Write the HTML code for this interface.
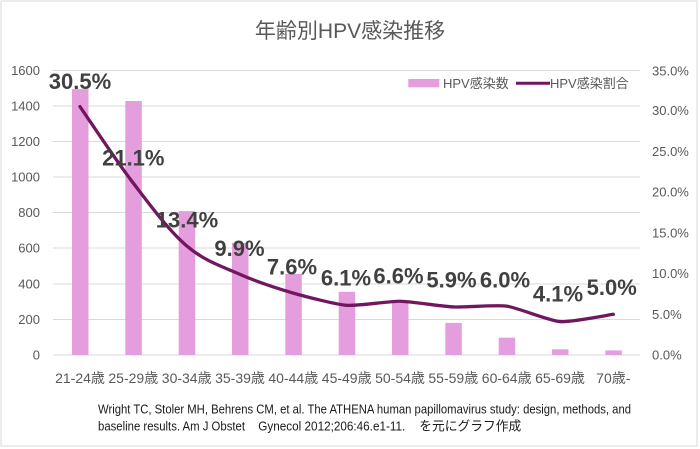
<!DOCTYPE html>
<html>
<head>
<meta charset="utf-8">
<style>
  html, body { margin:0; padding:0; background:#fff; }
  body { width:700px; height:449px; overflow:hidden; }
  svg { display:block; }
  .ax { font-family:"Liberation Sans","Noto Sans CJK JP",sans-serif; font-size:13px; fill:#595959; }
  .xl { font-family:"Liberation Sans","Noto Sans CJK JP",sans-serif; font-size:14px; fill:#595959; }
  .dl { font-family:"Liberation Sans",sans-serif; font-size:22px; font-weight:bold; fill:#404040; }
  .cit { font-family:"Liberation Sans","Noto Sans CJK JP",sans-serif; font-size:13px; fill:#1a1a1a; }
</style>
</head>
<body>
<svg width="700" height="449" viewBox="0 0 700 449" xmlns="http://www.w3.org/2000/svg">
  <rect x="0" y="0" width="700" height="449" fill="#fff"/>
  <rect x="1" y="1" width="696" height="445" fill="none" stroke="#d9d9d9" stroke-width="1"/>

  <!-- Title -->
  <text x="350" y="38" text-anchor="middle" font-family="'Liberation Sans','Noto Sans CJK JP',sans-serif" font-size="21" fill="#595959">年齢別HPV感染推移</text>

  <!-- Gridlines -->
  <g stroke="#d9d9d9" stroke-width="1">
    <line x1="53" y1="70.5" x2="640" y2="70.5"/>
    <line x1="53" y1="106" x2="640" y2="106"/>
    <line x1="53" y1="141.5" x2="640" y2="141.5"/>
    <line x1="53" y1="177" x2="640" y2="177"/>
    <line x1="53" y1="212.5" x2="640" y2="212.5"/>
    <line x1="53" y1="248" x2="640" y2="248"/>
    <line x1="53" y1="284" x2="640" y2="284"/>
    <line x1="53" y1="319.5" x2="640" y2="319.5"/>
    <line x1="53" y1="355" x2="640" y2="355"/>
  </g>

  <!-- Left axis labels -->
  <g class="ax" text-anchor="end">
    <text x="40" y="75">1600</text>
    <text x="40" y="110.5">1400</text>
    <text x="40" y="146">1200</text>
    <text x="40" y="181.5">1000</text>
    <text x="40" y="217">800</text>
    <text x="40" y="252.5">600</text>
    <text x="40" y="288.5">400</text>
    <text x="40" y="324">200</text>
    <text x="40" y="359.5">0</text>
  </g>

  <!-- Right axis labels -->
  <g class="ax" text-anchor="start">
    <text x="652" y="75.5">35.0%</text>
    <text x="652" y="115.2">30.0%</text>
    <text x="652" y="156">25.0%</text>
    <text x="652" y="196.7">20.0%</text>
    <text x="652" y="237.4">15.0%</text>
    <text x="652" y="278.2">10.0%</text>
    <text x="652" y="318.9">5.0%</text>
    <text x="652" y="359.5">0.0%</text>
  </g>

  <!-- Bars -->
  <g fill="#e59edd">
    <rect x="72" y="89.1" width="16.5" height="265.9"/>
    <rect x="125.3" y="101" width="16.5" height="254"/>
    <rect x="178.7" y="211.1" width="16.5" height="143.9"/>
    <rect x="232" y="242.8" width="16.5" height="112.2"/>
    <rect x="285.3" y="274" width="16.5" height="81"/>
    <rect x="338.7" y="291.8" width="16.5" height="63.2"/>
    <rect x="392" y="303" width="16.5" height="52"/>
    <rect x="445.3" y="322.9" width="16.5" height="32.1"/>
    <rect x="498.7" y="337.7" width="16.5" height="17.3"/>
    <rect x="552" y="349.3" width="16.5" height="5.7"/>
    <rect x="605.3" y="350.4" width="16.5" height="4.6"/>
  </g>

  <!-- Line -->
  <path fill="none" stroke="#71175f" stroke-width="3.3" stroke-linecap="round" stroke-linejoin="round"
    d="M80,106.64
       C88.89,119.40 115.56,159.98 133.33,183.19
       C151.11,206.40 168.89,230.69 186.67,245.89
       C204.44,261.09 222.22,266.52 240,274.39
       C257.78,282.26 282.67,290.02 293.33,293.11
       C304,296.2 336,304.51 346.67,305.33
       C357.33,306.15 389.33,301.10 400,301.26
       C410.67,301.42 442.67,306.47 453.33,306.96
       C464,307.45 496,304.67 506.67,306.14
       C517.33,307.61 549.33,320.79 560,321.61
       C570.67,322.43 608,315.02 613.33,314.29"/>

  <!-- Data labels -->
  <g class="dl" text-anchor="middle">
    <text x="80" y="89">30.5%</text>
    <text x="133.3" y="165.5">21.1%</text>
    <text x="187" y="227.7">13.4%</text>
    <text x="239.5" y="256">9.9%</text>
    <text x="292" y="274.3">7.6%</text>
    <text x="346" y="285.5">6.1%</text>
    <text x="398.5" y="283.3">6.6%</text>
    <text x="451.5" y="287.5">5.9%</text>
    <text x="505" y="287.5">6.0%</text>
    <text x="558" y="301.7">4.1%</text>
    <text x="611.7" y="295">5.0%</text>
  </g>

  <!-- X labels -->
  <g class="xl" text-anchor="middle">
    <text x="80" y="383">21-24歳</text>
    <text x="133.3" y="383">25-29歳</text>
    <text x="186.7" y="383">30-34歳</text>
    <text x="240" y="383">35-39歳</text>
    <text x="293.3" y="383">40-44歳</text>
    <text x="346.7" y="383">45-49歳</text>
    <text x="400" y="383">50-54歳</text>
    <text x="453.3" y="383">55-59歳</text>
    <text x="506.7" y="383">60-64歳</text>
    <text x="560" y="383">65-69歳</text>
    <text x="613.3" y="383">70歳-</text>
  </g>

  <!-- Legend -->
  <rect x="408.3" y="79" width="31" height="8.3" fill="#e59edd"/>
  <text class="ax" x="443" y="88">HPV感染数</text>
  <line x1="516" y1="83.3" x2="550" y2="83.3" stroke="#71175f" stroke-width="3"/>
  <text class="ax" x="550" y="88">HPV感染割合</text>

  <!-- Citation -->
  <text class="cit" x="98" y="413.3" textLength="533" lengthAdjust="spacingAndGlyphs">Wright TC, Stoler MH, Behrens CM, et al. The ATHENA human papillomavirus study: design, methods, and</text>
  <text class="cit" x="98" y="430.7" textLength="147" lengthAdjust="spacingAndGlyphs">baseline results. Am J Obstet</text>
  <text class="cit" x="258.3" y="430.7" textLength="147" lengthAdjust="spacingAndGlyphs">Gynecol 2012;206:46.e1-11.</text>
  <text class="cit" x="419.3" y="430.7" textLength="102" lengthAdjust="spacingAndGlyphs" fill="#404040">を元にグラフ作成</text>
</svg>
</body>
</html>
